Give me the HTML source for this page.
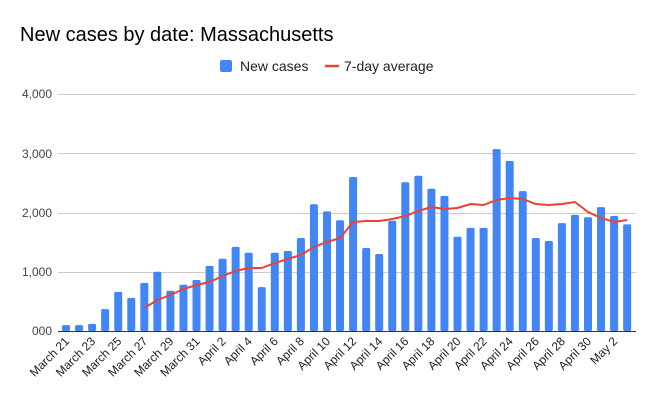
<!DOCTYPE html><html><head><meta charset="utf-8"><style>body{margin:0;background:#fff}svg{display:block;font-family:"Liberation Sans",sans-serif}</style></head><body>
<svg width="656" height="406" viewBox="0 0 656 406">
<text x="20" y="41" font-size="20" fill="#000">New cases by date: Massachusetts</text>
<rect x="220" y="60" width="12" height="12" rx="2" fill="#4285f4"/>
<text x="240" y="71" font-size="14" fill="#222">New cases</text>
<line x1="325" y1="66" x2="339" y2="66" stroke="#ea4335" stroke-width="2.5"/>
<text x="344" y="71" font-size="14" fill="#222">7-day average</text>
<g stroke="#ccc" stroke-width="1">
<line x1="58" y1="94.5" x2="636" y2="94.5"/><line x1="58" y1="153.5" x2="636" y2="153.5"/><line x1="58" y1="213.5" x2="636" y2="213.5"/><line x1="58" y1="272.5" x2="636" y2="272.5"/></g>
<g font-size="12" fill="#444" text-anchor="end">
<text x="52" y="98">4,000</text><text x="52" y="158">3,000</text><text x="52" y="217">2,000</text><text x="52" y="276">1,000</text><text x="52" y="335">000</text></g>
<g id="bars" fill="#4285f4"></g>
<line x1="58" y1="331.5" x2="636" y2="331.5" stroke="#333" stroke-width="1"/>
<polyline id="avg" fill="none" stroke="#ea4335" stroke-width="2"/>
<g id="lbl" font-size="12" fill="#222" text-anchor="end"></g>
</svg>
<script>
var v=[100,100,120,370,660,560,810,1000,680,780,860,1100,1220,1420,1320,740,1320,1350,1570,2140,2020,1870,2600,1400,1300,1860,2510,2620,2400,2280,1590,1740,1740,3070,2870,2360,1570,1520,1820,1960,1920,2090,1940,1800];
var a=[308,300,295,289,285,282,276,271,268,268,263,259,255,247,242,238,222,221,221,219,216,211,207,209,208,204,205,200,198,199,204,205,204,202,212,218,222,220];
var names=["March 21","March 23","March 25","March 27","March 29","March 31","April 2","April 4","April 6","April 8","April 10","April 12","April 14","April 16","April 18","April 20","April 22","April 24","April 26","April 28","April 30","May 2"];
var ns="http://www.w3.org/2000/svg",b=document.getElementById("bars"),l=document.getElementById("lbl"),s="";
for(var i=0;i<v.length;i++){var x=66+13.05*i,h=v[i]*0.05925;var r=document.createElementNS(ns,"rect");r.setAttribute("x",x-4);r.setAttribute("y",331-h);r.setAttribute("width",8);r.setAttribute("height",h);r.setAttribute("rx",1.5);b.appendChild(r);
if(i>=6)s+=x+","+a[i-6]+" ";
if(i%2==0){var t=document.createElementNS(ns,"text");t.setAttribute("transform","translate("+(x+4)+",342) rotate(-45)");t.textContent=names[i/2];l.appendChild(t);}}
document.getElementById("avg").setAttribute("points",s);
</script>
</body></html>
